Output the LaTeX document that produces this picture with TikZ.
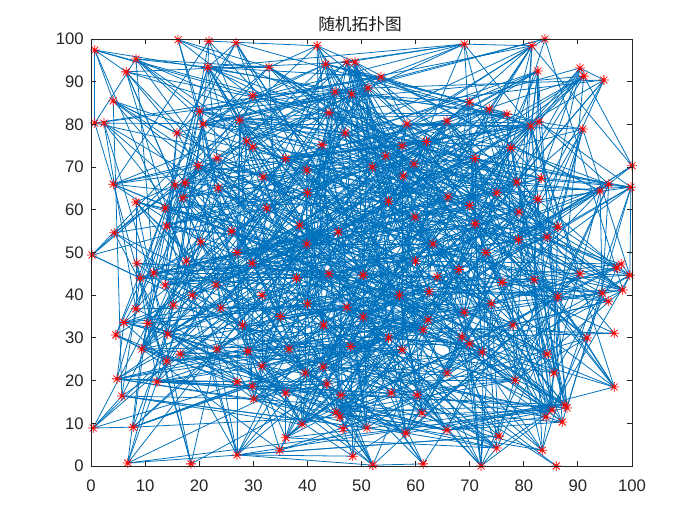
\documentclass[tikz,border=0pt]{standalone}
\usepackage{fontspec}
\setmainfont{Liberation Sans}
\newfontfamily\cjk{Noto Sans CJK SC}
\pgfdeclarelayer{back}
\pgfdeclarelayer{bg}
\pgfsetlayers{back,bg,main}
\definecolor{edgeblue}{rgb}{0,0.447,0.741}
\definecolor{axisgray}{rgb}{0.15,0.15,0.15}
\tikzset{
  ast/.style={circle, inner sep=0pt, minimum size=0.2cm, path picture={
    \draw[red, line width=0.45pt]
      (path picture bounding box.north) -- (path picture bounding box.south)
      (path picture bounding box.east) -- (path picture bounding box.west)
      (path picture bounding box.north east) -- (path picture bounding box.south west)
      (path picture bounding box.north west) -- (path picture bounding box.south east);}},
  edge/.style={edgeblue, line width=0.45pt},
  axisline/.style={axisgray, line width=0.5pt},
  ticklabel/.style={font=\fontsize{9.5}{11}\selectfont, text=axisgray, inner sep=0pt}
}
\begin{document}
\begin{tikzpicture}
\useasboundingbox (0,0) rectangle (14,10.5);
\begin{pgfonlayer}{back}
\fill[white] (0,0) rectangle (14,10.5);
\end{pgfonlayer}
\node[font=\cjk\fontsize{9.5}{11}\selectfont, text=black!90] (title) at (7.2,10.02) {随机拓扑图};
\begin{scope}[shift={(1.82cm,1.18cm)}, x=0.1082cm, y=0.0854cm]
\foreach \px/\py [count=\i] in {
0.7/97.4, 16.1/99.8, 21.8/99.5, 26.8/99.1, 8.3/95.3, 6.5/92.3, 21.6/93.4, 32.9/93.4, 4.1/85.5, 29.9/86.7,
20.1/83.1, 0.7/80.3, 2.4/80.3, 27.5/81.0, 15.9/78.0, 28.8/76.1, 29.9/74.7, 20.7/80.1, 23.3/72.1, 19.8/70.3,
31.8/67.7, 41.8/98.4, 43.4/94.1, 47.3/94.6, 48.8/94.6, 53.6/91.1, 45.1/87.6, 48.2/87.1, 51.2/88.5, 58.4/80.1,
65.8/80.8, 44.0/82.7, 42.7/75.2, 57.5/75.0, 54.5/72.6, 59.7/70.7, 57.7/67.9, 39.9/69.3, 69.0/98.8, 81.5/98.4,
83.9/100, 82.6/92.5, 90.4/93.2, 91.1/91.3, 94.8/90.4, 70.0/85.2, 73.6/83.6, 76.9/82.4, 81.3/79.6, 82.8/80.6,
90.9/78.9, 77.6/74.5, 100/70.3, 4.1/66.0, 8.3/61.8, 15.5/65.8, 17.4/66.3, 17.0/62.8, 13.7/60.4, 4.3/54.6,
14.0/56.2, 20.3/52.5, 0.2/49.4, 8.5/47.5, 17.6/48.0, 29.8/47.5, 9.1/44.0, 11.6/45.2, 13.7/42.4, 23.1/42.4,
18.7/40.0, 31.6/40.0, 15.2/37.7, 8.3/36.8, 6.1/33.6, 10.5/33.4, 32.5/60.4, 23.5/65.1, 4.6/30.7, 14.2/30.9,
9.4/27.4, 14.0/24.6, 16.5/26.2, 23.3/27.4, 29.0/26.9, 31.6/23.4, 4.8/20.4, 12.2/19.7, 27.0/19.7, 29.8/18.7,
30.1/15.7, 5.7/16.4, 0.4/8.9, 7.8/9.1, 6.8/0.7, 18.5/0.5, 27.0/2.6, 36.6/27.4, 39.6/21.8, 42.9/23.2,
43.6/19.2, 36.0/17.1, 46.2/16.6, 55.5/17.1, 45.3/12.6, 46.0/11.5, 39.0/9.8, 46.6/8.7, 51.0/8.9, 58.2/7.7,
65.8/8.4, 61.2/12.4, 36.0/6.6, 34.9/3.7, 48.4/2.3, 52.1/0.2, 61.4/0.5, 57.5/27.2, 65.8/21.8, 61.4/31.9,
60.3/16.6, 91.7/30.0, 96.7/31.1, 68.6/30.2, 70.0/28.6, 72.3/26.7, 84.3/26.2, 85.6/21.8, 78.4/20.1, 96.7/18.5,
87.6/14.3, 85.2/13.1, 84.1/11.5, 87.1/10.3, 75.4/7.0, 75.0/4.2, 83.4/3.7, 72.1/0.0, 86.0/0.0, 88.0/13.6,
78.7/66.5, 83.2/67.4, 94.1/64.4, 95.7/66.0, 99.8/65.3, 82.6/62.5, 79.1/59.5, 71.0/56.7, 86.3/56.0, 84.3/53.6,
98.0/47.3, 97.2/46.4, 99.6/44.7, 90.4/45.0, 81.9/43.6, 98.3/41.2, 86.3/39.6, 95.6/38.6, 94.5/40.5, 38.6/56.4,
45.7/54.8, 39.9/52.0, 63.2/52.0, 59.9/58.3, 50.3/44.7, 64.0/44.3, 62.5/40.8, 47.3/37.2, 50.3/34.9, 62.3/34.2,
66/63, 70/61, 55/62, 52/70, 60/48, 68/46, 73/50, 76/43, 57/40, 44/45,
40/38, 35/35, 55/30, 48/28, 43/33, 69/36, 74/38, 78/33, 38/44, 26/55,
27/50, 24/37, 28/33, 40/64, 36/72, 47/78, 62/76, 71/72, 75/64, 79/53} {
  \node[ast] (n\i) at (\px,\py) {};
  \expandafter\xdef\csname PX\i\endcsname{\px}
  \expandafter\xdef\csname PY\i\endcsname{\py}
}
\pgfmathsetseed{12}
\begin{pgfonlayer}{bg}
\foreach \i in {1,...,199} {
  \pgfmathtruncatemacro\inext{\i+1}
  \edef\xa{\csname PX\i\endcsname}
  \edef\ya{\csname PY\i\endcsname}
  \foreach \j in {\inext,...,200} {
    \edef\xb{\csname PX\j\endcsname}
    \edef\yb{\csname PY\j\endcsname}
    \pgfmathparse{rnd < 0.18*exp(-veclen(\xa-\xb,\ya-\yb)/40) ? 1 : 0}
    \ifdim\pgfmathresult pt>0.5pt
      \draw[edge] (n\i.center) -- (n\j.center);
    \fi
  }
}
\end{pgfonlayer}
\draw[axisline] (0,0) rectangle (100,100);
\foreach \t in {0,10,...,100} {
  \draw[axisline] (\t,0) -- ++(0,0.108cm);
  \draw[axisline] (\t,100) -- ++(0,-0.108cm);
  \draw[axisline] (0,\t) -- ++(0.108cm,0);
  \draw[axisline] (100,\t) -- ++(-0.108cm,0);
  \node[ticklabel, anchor=north] (xl\t) at ([yshift=-0.26cm]\t,0) {\t};
  \node[ticklabel, anchor=east] (yl\t) at ([xshift=-0.14cm]0,\t) {\t};
}
\end{scope}
\end{tikzpicture}
\end{document}
